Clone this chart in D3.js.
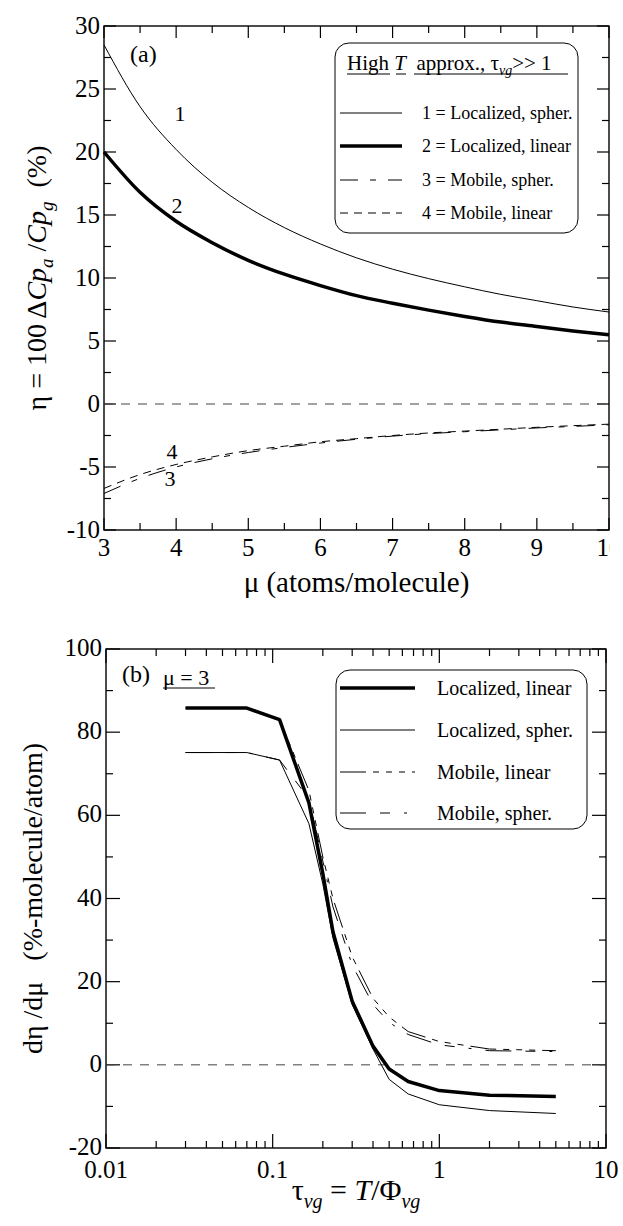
<!DOCTYPE html>
<html><head><meta charset="utf-8">
<script src="https://cdn.jsdelivr.net/npm/d3@7"></script>
<style>
html,body{margin:0;padding:0;background:#fff;}
svg{display:block;}
svg text{font-family:"Liberation Serif","Times New Roman","DejaVu Serif",Times,serif;white-space:pre;}
</style></head>
<body>
<svg id="chart" width="623" height="1226" font-family="Liberation Serif, Times New Roman, DejaVu Serif, serif"></svg>
<script>
// ---------- Panel (a) data ----------
const muVals = [3,3.5,4,4.5,5,5.5,6,6.5,7,7.5,8,8.5,9,9.5,10];
const eta1 = [28.5,23.6,20.2,17.6,15.6,14.0,12.7,11.6,10.7,9.95,9.3,8.7,8.2,7.7,7.3];   // Localized, spher.
const eta2 = [20.0,16.8,14.5,12.8,11.4,10.3,9.4,8.6,8.0,7.45,6.95,6.5,6.15,5.8,5.5];     // Localized, linear
const eta3 = [-7.1,-5.9,-5.0,-4.35,-3.85,-3.45,-3.1,-2.8,-2.55,-2.35,-2.2,-2.05,-1.9,-1.78,-1.65]; // Mobile, spher.
const eta4 = [-6.7,-5.6,-4.8,-4.2,-3.7,-3.35,-3.0,-2.75,-2.5,-2.3,-2.15,-2.0,-1.85,-1.72,-1.6];  // Mobile, linear
const aXTicks = [3,4,5,6,7,8,9,10];
const aXTickLabels = ["3","4","5","6","7","8","9","10"];
const aYTicks = [-10,-5,0,5,10,15,20,25,30];
const aLegendLabels = ["1 = Localized, spher.","2 = Localized, linear","3 = Mobile, spher.","4 = Mobile, linear"];

// ---------- Panel (b) data ----------
const tauVals = [0.03,0.07,0.11,0.165,0.2,0.23,0.3,0.4,0.5,0.65,1,2,5];
const dLocLin = [85.8,85.8,83.0,63,46,32,15.3,4.5,-1.0,-4.0,-6.2,-7.3,-7.6];
const dLocSph = [75.1,75.1,73.3,58,43.5,30.5,14.5,3.8,-3.5,-7.0,-9.6,-11.0,-11.7];
const dMobLin = [85.8,85.8,83.0,66,50,40,26,16,11.5,8.0,5.6,3.8,3.4];
const dMobSph = [75.1,75.1,73.3,64,49,38,24,14.5,10.2,7.3,4.8,3.4,3.2];
const bXTicks = [0.01,0.1,1,10];
const bXTickLabels = ["0.01","0.1","1","10"];
const bYTicks = [-20,0,20,40,60,80,100];
const bLegendLabels = ["Localized, linear","Localized, spher.","Mobile, linear","Mobile, spher."];

const svg = d3.select("#chart");
const clip = svg.append("defs").append("clipPath").attr("id","pageclip");
clip.append("rect").attr("x",0).attr("y",0).attr("width",610).attr("height",1226);

// ================= Panel (a) =================
const A = {l:104, r:609, t:26, b:530};
const xa = d3.scaleLinear().domain([3,10]).range([A.l,A.r]);
const ya = d3.scaleLinear().domain([-10,30]).range([A.b,A.t]);
const ga = svg.append("g");

function frame(g, P){
  g.append("rect").attr("x",P.l).attr("y",P.t).attr("width",P.r-P.l).attr("height",P.b-P.t)
    .attr("fill","none").attr("stroke","#000").attr("stroke-width",1.4);
}
frame(ga, A);
const aXMinor = d3.range(3.5,10,1);
const aYMinor = d3.range(-7.5,30,5);
function tickLines(g, vals, scale, P, len, axis){
  vals.forEach(v=>{
    const p = scale(v);
    if(axis==="x"){
      g.append("line").attr("x1",p).attr("x2",p).attr("y1",P.b).attr("y2",P.b-len).attr("stroke","#000").attr("stroke-width",1.2);
      g.append("line").attr("x1",p).attr("x2",p).attr("y1",P.t).attr("y2",P.t+len).attr("stroke","#000").attr("stroke-width",1.2);
    } else {
      g.append("line").attr("y1",p).attr("y2",p).attr("x1",P.l).attr("x2",P.l+len).attr("stroke","#000").attr("stroke-width",1.2);
      g.append("line").attr("y1",p).attr("y2",p).attr("x1",P.r).attr("x2",P.r-len).attr("stroke","#000").attr("stroke-width",1.2);
    }
  });
}
tickLines(ga, aXTicks, xa, A, 12, "x");
tickLines(ga, aXMinor, xa, A, 7, "x");
tickLines(ga, aYTicks, ya, A, 12, "y");
tickLines(ga, aYMinor, ya, A, 7, "y");

const labA = svg.append("g").attr("clip-path","url(#pageclip)");
aXTicks.forEach((v,i)=>{
  labA.append("text").attr("x",xa(v)).attr("y",A.b+26).attr("text-anchor","middle")
    .attr("font-size",25).text(aXTickLabels[i]);
});
aYTicks.forEach(v=>{
  ga.append("text").attr("x",A.l-4).attr("y",ya(v)+8).attr("text-anchor","end")
    .attr("font-size",25).text(v);
});

ga.append("line").attr("x1",A.l).attr("x2",A.r).attr("y1",ya(0)).attr("y2",ya(0))
  .attr("stroke","#444").attr("stroke-width",1).attr("stroke-dasharray","9,8");

const lineA = d3.line().x(d=>xa(d[0])).y(d=>ya(d[1])).curve(d3.curveMonotoneX);
const seriesA = [
  {v:eta1, w:1, dash:null},
  {v:eta2, w:3.5, dash:null},
  {v:eta3, w:1, dash:"18,12,6,12"},
  {v:eta4, w:1, dash:"8,6"}
];
seriesA.forEach(s=>{
  ga.append("path").datum(muVals.map((m,i)=>[m,s.v[i]]))
    .attr("d",lineA).attr("fill","none").attr("stroke","#000")
    .attr("stroke-width",s.w).attr("stroke-dasharray",s.dash);
});

ga.append("text").attr("x",180).attr("y",121).attr("font-size",22).attr("text-anchor","middle").text("1");
ga.append("text").attr("x",177).attr("y",213).attr("font-size",22).attr("text-anchor","middle").text("2");
ga.append("text").attr("x",172).attr("y",459).attr("font-size",22).attr("text-anchor","middle").text("4");
ga.append("text").attr("x",170).attr("y",486).attr("font-size",22).attr("text-anchor","middle").text("3");
ga.append("text").attr("x",130).attr("y",62).attr("font-size",24).text("(a)");

// legend (a)
const LA = {x:335, y:43, w:243, h:190};
ga.append("rect").attr("x",LA.x).attr("y",LA.y).attr("width",LA.w).attr("height",LA.h)
  .attr("rx",14).attr("fill","#fff").attr("stroke","#000").attr("stroke-width",1);
const tA = ga.append("text").attr("x",347).attr("y",70).attr("font-size",21);
tA.append("tspan").text("High ");
tA.append("tspan").attr("font-style","italic").text("T");
tA.append("tspan").text("\u00A0\u00A0approx., τ");
tA.append("tspan").attr("font-size",14).attr("font-style","italic").attr("dy",5).text("vg");
tA.append("tspan").attr("dy",-5).text(">> 1");
[[347,390],[396,406],[414,568]].forEach(s=>{
  ga.append("line").attr("x1",s[0]).attr("x2",s[1]).attr("y1",74).attr("y2",74).attr("stroke","#000").attr("stroke-width",1);
});
const legA_y = [113,146,180,213];
aLegendLabels.forEach((lab,i)=>{
  const s = seriesA[i];
  ga.append("line").attr("x1",340).attr("x2",402).attr("y1",legA_y[i]).attr("y2",legA_y[i])
    .attr("stroke","#000").attr("stroke-width",s.w).attr("stroke-dasharray",s.dash);
  ga.append("text").attr("x",422).attr("y",legA_y[i]+6).attr("font-size",18).text(lab);
});

// axis titles (a)
ga.append("text").attr("x",(A.l+A.r)/2).attr("y",592).attr("text-anchor","middle").attr("font-size",29)
  .text("μ (atoms/molecule)");
const ytA = ga.append("text").attr("transform",`translate(46,${(A.t+A.b)/2}) rotate(-90)`)
  .attr("text-anchor","middle").attr("font-size",28);
ytA.append("tspan").text("η = 100 Δ");
ytA.append("tspan").attr("font-style","italic").text("Cp");
ytA.append("tspan").attr("font-style","italic").attr("font-size",19).attr("dy",7).text("a");
ytA.append("tspan").attr("dy",-7).text(" /");
ytA.append("tspan").attr("font-style","italic").text("Cp");
ytA.append("tspan").attr("font-style","italic").attr("font-size",19).attr("dy",7).text("g");
ytA.append("tspan").attr("dy",-7).text("\u00A0\u00A0(%)");

// ================= Panel (b) =================
const B = {l:106, r:606, t:649, b:1148};
const xb = d3.scaleLog().domain([0.01,10]).range([B.l,B.r]);
const yb = d3.scaleLinear().domain([-20,100]).range([B.b,B.t]);
const gb = svg.append("g");
frame(gb, B);
const bXMinor = [];
[0.01,0.1,1].forEach(d=>{ for(let k=2;k<=9;k++) bXMinor.push(d*k); });
const bYMinor = d3.range(-10,100,20);
tickLines(gb, bXTicks, xb, B, 14, "x");
tickLines(gb, bXMinor, xb, B, 7, "x");
tickLines(gb, bYTicks, yb, B, 14, "y");
tickLines(gb, bYMinor, yb, B, 7, "y");
bXTicks.forEach((v,i)=>{
  gb.append("text").attr("x",xb(v)).attr("y",B.b+30).attr("text-anchor","middle")
    .attr("font-size",25).text(bXTickLabels[i]);
});
bYTicks.forEach(v=>{
  gb.append("text").attr("x",B.l-4).attr("y",yb(v)+7).attr("text-anchor","end")
    .attr("font-size",25).text(v);
});
gb.append("line").attr("x1",B.l).attr("x2",B.r).attr("y1",yb(0)).attr("y2",yb(0))
  .attr("stroke","#444").attr("stroke-width",1).attr("stroke-dasharray","9,8");

const lineB = d3.line().x(d=>xb(d[0])).y(d=>yb(d[1]));
const seriesB = [
  {v:dLocLin, w:3.5, dash:null},
  {v:dLocSph, w:1, dash:null},
  {v:dMobLin, w:1, dash:"26,7,6,7,6,7,6,7"},
  {v:dMobSph, w:1, dash:"26,14,10,14,3,14"}
];
seriesB.slice().reverse().forEach(s=>{
  gb.append("path").datum(tauVals.map((t,i)=>[t,s.v[i]]))
    .attr("d",lineB).attr("fill","none").attr("stroke","#000")
    .attr("stroke-width",s.w).attr("stroke-dasharray",s.dash).attr("stroke-linejoin","round");
});

gb.append("text").attr("x",122).attr("y",682).attr("font-size",24).text("(b)");
gb.append("text").attr("x",163).attr("y",685).attr("font-size",22).text("μ = 3");
gb.append("line").attr("x1",163).attr("x2",215).attr("y1",688).attr("y2",688).attr("stroke","#000").attr("stroke-width",1);

// legend (b)
gb.append("rect").attr("x",336).attr("y",670).attr("width",251).attr("height",159)
  .attr("rx",14).attr("fill","#fff").attr("stroke","#000").attr("stroke-width",1);
const legB_y = [688,730,772,813];
bLegendLabels.forEach((lab,i)=>{
  const s = seriesB[i];
  gb.append("line").attr("x1",340).attr("x2",415).attr("y1",legB_y[i]).attr("y2",legB_y[i])
    .attr("stroke","#000").attr("stroke-width",s.w).attr("stroke-dasharray",s.dash);
  gb.append("text").attr("x",437).attr("y",legB_y[i]+7).attr("font-size",20).text(lab);
});

// axis titles (b)
const xtB = gb.append("text").attr("x",(B.l+B.r)/2).attr("y",1200).attr("text-anchor","middle").attr("font-size",30);
xtB.append("tspan").text("τ");
xtB.append("tspan").attr("font-style","italic").attr("font-size",20).attr("dy",8).text("vg");
xtB.append("tspan").attr("dy",-8).text(" = ");
xtB.append("tspan").attr("font-style","italic").text("T");
xtB.append("tspan").text("/Φ");
xtB.append("tspan").attr("font-style","italic").attr("font-size",20).attr("dy",8).text("vg");

gb.append("text").attr("transform",`translate(42,${(B.t+B.b)/2}) rotate(-90)`)
  .attr("text-anchor","middle").attr("font-size",28).text("dη /dμ\u00A0\u00A0\u00A0(%-molecule/atom)");
</script>
</body></html>
